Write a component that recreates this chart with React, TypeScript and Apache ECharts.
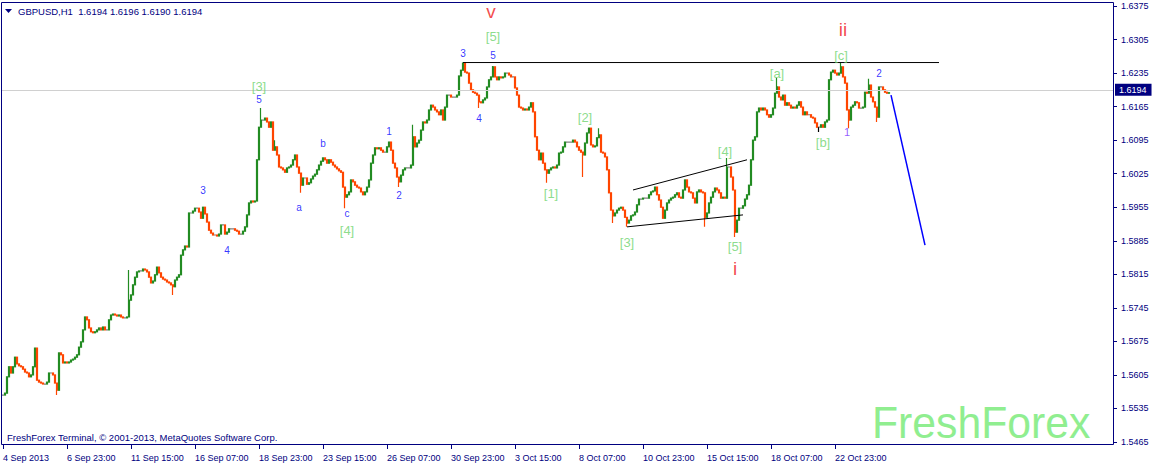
import React, { useEffect, useRef } from "react";
import * as echarts from "echarts";

// Hourly closes (one value per two H1 bars)
const closes: number[] = [
  1.5563, 1.5567, 1.5601, 1.5622, 1.5609, 1.5622, 1.5642, 1.5628, 1.5624, 1.5622,
  1.5617, 1.5611, 1.5609, 1.5601, 1.5605, 1.5622, 1.5661, 1.5594, 1.559, 1.5588,
  1.5586, 1.5586, 1.559, 1.5609, 1.5609, 1.5605, 1.5588, 1.5573, 1.5651, 1.5647,
  1.563, 1.5632, 1.563, 1.5632, 1.5636, 1.5638, 1.5642, 1.5647, 1.5663, 1.5674,
  1.5699, 1.5726, 1.572, 1.5703, 1.5695, 1.5693, 1.5695, 1.5699, 1.5703, 1.5699,
  1.5705, 1.5699, 1.5699, 1.572, 1.573, 1.5732, 1.573, 1.5728, 1.573, 1.5726,
  1.5724, 1.5724, 1.5726, 1.5761, 1.5772, 1.5793, 1.5809, 1.582, 1.5822, 1.5822,
  1.5826, 1.5824, 1.582, 1.5809, 1.5797, 1.5801, 1.5814, 1.583, 1.5818, 1.5809,
  1.5805, 1.5803, 1.5799, 1.5797, 1.5793, 1.5789, 1.5803, 1.5809, 1.5814, 1.5855,
  1.5866, 1.5874, 1.5872, 1.5943, 1.5943, 1.5947, 1.5953, 1.5953, 1.5945, 1.5932,
  1.5955, 1.5941, 1.5924, 1.5907, 1.5901, 1.5897, 1.5897, 1.5895, 1.5899, 1.5918,
  1.5918, 1.5899, 1.5903, 1.591, 1.591, 1.591, 1.5907, 1.5905, 1.5899, 1.5899,
  1.5905, 1.5914, 1.5939, 1.5964, 1.5968, 1.5966, 1.5968, 1.6054, 1.6122, 1.6137,
  1.6137, 1.6141, 1.6133, 1.6122, 1.6133, 1.6074, 1.6081, 1.6064, 1.6039, 1.6037,
  1.6033, 1.6028, 1.6037, 1.6039, 1.6043, 1.6054, 1.6064, 1.6039, 1.6026, 1.6001,
  1.6016, 1.6016, 1.6003, 1.6006, 1.6014, 1.602, 1.6024, 1.6033, 1.6043, 1.6051,
  1.6058, 1.6054, 1.6047, 1.6054, 1.6049, 1.6043, 1.6039, 1.6035, 1.6031, 1.6028,
  1.5997, 1.5976, 1.5981, 1.5987, 1.6012, 1.6008, 1.6001, 1.5997, 1.5995, 1.5987,
  1.5981, 1.5987, 1.5997, 1.6012, 1.6047, 1.6064, 1.6079, 1.6077, 1.6079, 1.6074,
  1.607, 1.607, 1.6081, 1.6091, 1.6074, 1.6047, 1.6037, 1.6018, 1.6008, 1.6022,
  1.6033, 1.6037, 1.6037, 1.6037, 1.6043, 1.6102, 1.6081, 1.6089, 1.6095, 1.6116,
  1.6133, 1.6131, 1.6137, 1.6158, 1.6168, 1.6164, 1.6158, 1.6154, 1.6148, 1.6158,
  1.6137, 1.6164, 1.6189, 1.6189, 1.6185, 1.6185, 1.6185, 1.6189, 1.6229, 1.6241,
  1.6256, 1.6237, 1.6235, 1.6214, 1.62, 1.6195, 1.6193, 1.6189, 1.6175, 1.6173,
  1.6179, 1.6183, 1.6206, 1.6221, 1.6227, 1.6248, 1.6227, 1.6221, 1.6227, 1.6225,
  1.6227, 1.6235, 1.6235, 1.6231, 1.6227, 1.6227, 1.6204, 1.6189, 1.6164, 1.6162,
  1.6158, 1.616, 1.6158, 1.6164, 1.6173, 1.6154, 1.6102, 1.6074, 1.6054, 1.6068,
  1.6047, 1.6033, 1.6026, 1.6033, 1.6037, 1.6039, 1.6037, 1.6043, 1.6068, 1.607,
  1.6081, 1.6091, 1.6091, 1.6091, 1.6091, 1.6095, 1.6091, 1.6081, 1.6074, 1.607,
  1.6064, 1.6089, 1.611, 1.612, 1.6085, 1.6081, 1.6083, 1.61, 1.6106, 1.607,
  1.6068, 1.606, 1.6033, 1.5985, 1.5949, 1.5937, 1.5943, 1.5949, 1.5953, 1.5955,
  1.5949, 1.5934, 1.5922, 1.5928, 1.5937, 1.5939, 1.5945, 1.596, 1.5972, 1.5972,
  1.5974, 1.5974, 1.5974, 1.5981, 1.5987, 1.5989, 1.5997, 1.5981, 1.597, 1.5955,
  1.5932, 1.5949, 1.5964, 1.597, 1.5974, 1.5976, 1.5981, 1.5985, 1.5976, 1.5974,
  1.5991, 1.6012, 1.5997, 1.5987, 1.5985, 1.5974, 1.5964, 1.5987, 1.5991, 1.5987,
  1.5985, 1.5934, 1.5943, 1.5964, 1.5976, 1.5987, 1.5995, 1.5991, 1.5985, 1.5974,
  1.5976, 1.5974, 1.6039, 1.6039, 1.6018, 1.5991, 1.5903, 1.5928, 1.5953, 1.5953,
  1.5958, 1.5972, 1.5981, 1.6001, 1.6054, 1.6095, 1.6102, 1.6154, 1.6162, 1.6158,
  1.6162, 1.6158, 1.6148, 1.6143, 1.6148, 1.6162, 1.6193, 1.6206, 1.6185, 1.6179,
  1.6189, 1.6168, 1.6173, 1.6168, 1.6162, 1.6164, 1.6162, 1.6168, 1.6175, 1.6164,
  1.6148, 1.6154, 1.6148, 1.6148, 1.6143, 1.6141, 1.6131, 1.6122, 1.6122, 1.6127,
  1.6122, 1.6133, 1.6137, 1.6221, 1.6237, 1.6241, 1.6235, 1.6231, 1.6235, 1.6248,
  1.6227, 1.6214, 1.6158, 1.6137, 1.6164, 1.6168, 1.6175, 1.6173, 1.6162, 1.6162,
  1.6164, 1.6195, 1.6193, 1.621, 1.6185, 1.6175, 1.6164, 1.6143, 1.6206, 1.6206,
  1.62, 1.6195, 1.6193, 1.6194,
];

// Notable wick extremes: [index, low, high]
const wicks: [number, number | null, number | null][] = [
  [27, 1.5563, null], [63, null, 1.5824], [85, 1.5772, null], [129, null, 1.6162],
  [136, null, 1.6095], [149, 1.5985, null], [171, 1.5953, null], [198, 1.5997, null],
  [205, null, 1.6127], [238, 1.6162, null], [245, null, 1.625], [272, 1.6006, null],
  [290, 1.6018, null], [298, null, 1.612], [305, 1.5922, null], [312, 1.5914, null],
  [351, 1.5914, null], [362, null, 1.6058], [366, 1.5893, null], [387, null, 1.6225],
  [408, 1.6112, null], [419, null, 1.6256], [423, 1.612, null], [433, null, 1.6223],
  [437, 1.6133, null],
];

const TOTAL_SLOTS = 556;
const LABEL_EVERY = 32;
const timeLabels = [
  "4 Sep 2013", "6 Sep 23:00", "11 Sep 15:00", "16 Sep 07:00", "18 Sep 23:00",
  "23 Sep 15:00", "26 Sep 07:00", "30 Sep 23:00", "3 Oct 15:00", "8 Oct 07:00",
  "10 Oct 23:00", "15 Oct 15:00", "18 Oct 07:00", "22 Oct 23:00",
];

const yMin = 1.5465;
const yMax = 1.6375;
const yStep = 0.007;
const bid = 1.6194;
const lastBar = [1.6194, 1.6196, 1.619, 1.6194]; // O H L C
const symbolName = "GBPUSD,H1";

const resistanceLine: [number, number][] = [[230, 1.6257], [468, 1.6257]];
const channelUpper: [number, number][] = [[315, 1.5991], [372, 1.6054]];
const channelLower: [number, number][] = [[312, 1.5914], [370, 1.5939]];
const projectionLine: [number, number][] = [[444, 1.6189], [461, 1.5876]];

// wave labels: [index, price, text]
const blueLabels: [number, number, string][] = [
  [100, 1.5989, "3"], [112, 1.5864, "4"], [128, 1.6179, "5"], [148, 1.5955, "a"],
  [160, 1.6089, "b"], [172, 1.5941, "c"], [193, 1.6114, "1"], [198, 1.5979, "2"],
  [230, 1.6275, "3"], [238, 1.6141, "4"], [245, 1.6271, "5"], [438, 1.6235, "2"],
];
const violetLabels: [number, number, string][] = [[422, 1.6112, "1"]];
const greenLabels: [number, number, string][] = [
  [128, 1.6208, "[3]"], [172, 1.5907, "[4]"], [245, 1.6312, "[5]"], [274, 1.5983, "[1]"],
  [291, 1.6143, "[2]"], [312, 1.5882, "[3]"], [361, 1.6072, "[4]"], [366, 1.5872, "[5]"],
  [387, 1.6235, "[a]"], [410, 1.6091, "[b]"], [419, 1.6271, "[c]"],
];
const redLabels: [number, number, string][] = [
  [244, 1.6364, "v"], [366, 1.5828, "i"], [420, 1.6325, "ii"],
];

const NAVY = "#000080";
const FONT = "Liberation Sans, Arial, sans-serif";

export default function App() {
  const ref = useRef<HTMLDivElement>(null);

  useEffect(() => {
    document.body.style.margin = "0";
    if (!ref.current) return;
    const chart = echarts.init(ref.current, undefined, { renderer: "svg" });

    const categories = Array.from({ length: TOTAL_SLOTS }, (_, i) => String(i));
    const wickMap: Record<number, [number | null, number | null]> = {};
    wicks.forEach(([i, lo, hi]) => (wickMap[i] = [lo, hi]));

    const candles = closes.map((c, i) => {
      const o = i === 0 ? c : closes[i - 1];
      let lo = Math.min(o, c);
      let hi = Math.max(o, c);
      const w = wickMap[i];
      if (w) {
        if (w[0] != null) lo = Math.min(lo, w[0]);
        if (w[1] != null) hi = Math.max(hi, w[1]);
      }
      return [o, c, lo, hi];
    });

    const isLabelIdx = (idx: number) =>
      idx % LABEL_EVERY === 0 && idx / LABEL_EVERY < timeLabels.length;

    const labelSeries = (
      items: [number, number, string][],
      color: string,
      size: number
    ) => ({
      type: "scatter",
      symbol: "circle",
      symbolSize: 1,
      silent: true,
      itemStyle: { color: "rgba(0,0,0,0)" },
      z: 5,
      data: items.map(([i, p, t]) => ({
        value: [i, p],
        label: {
          show: true,
          position: "inside",
          formatter: t,
          color,
          fontSize: size,
          fontFamily: FONT,
        },
      })),
    });

    const lineSeries = (pts: [number, number][], color: string, width: number) => ({
      type: "line",
      data: pts,
      symbol: "none",
      silent: true,
      lineStyle: { color, width },
      z: 4,
    });

    chart.setOption({
      animation: false,
      backgroundColor: "#ffffff",
      grid: { left: 2, right: 40, top: 6, bottom: 21, containLabel: false },
      xAxis: {
        type: "category",
        data: categories,
        boundaryGap: true,
        offset: 3,
        axisLine: { show: false },
        axisTick: {
          show: true,
          alignWithLabel: true,
          interval: (idx: number) => isLabelIdx(idx),
          length: 4,
          lineStyle: { color: NAVY },
        },
        axisLabel: {
          interval: (idx: number) => isLabelIdx(idx),
          formatter: (_v: string, idx: number) =>
            isLabelIdx(idx) ? timeLabels[idx / LABEL_EVERY] : "",
          align: "left",
          margin: 8,
          fontSize: 9,
          color: NAVY,
          fontFamily: FONT,
        },
        splitLine: { show: false },
      },
      yAxis: {
        type: "value",
        position: "right",
        min: yMin,
        max: yMax,
        interval: yStep,
        axisLine: { show: false },
        axisTick: { show: true, length: 3, lineStyle: { color: NAVY } },
        axisLabel: {
          margin: 7,
          fontSize: 9,
          color: NAVY,
          fontFamily: FONT,
          formatter: (v: number) => v.toFixed(4),
        },
        splitLine: { show: false },
      },
      series: [
        {
          type: "candlestick",
          data: candles,
          barWidth: 1.6,
          silent: true,
          itemStyle: {
            color: "#228B22",
            color0: "#FF4500",
            borderColor: "#228B22",
            borderColor0: "#FF4500",
            borderColorDoji: "#000000",
            borderWidth: 1.2,
          },
          markLine: {
            silent: true,
            symbol: "none",
            animation: false,
            lineStyle: { color: "#D0D0D0", type: "solid", width: 1 },
            label: {
              show: true,
              position: "end",
              distance: 1,
              formatter: bid.toFixed(4),
              color: "#ffffff",
              backgroundColor: NAVY,
              padding: [2, 5, 1, 4],
              fontSize: 9,
              fontFamily: FONT,
            },
            data: [{ yAxis: bid }],
          },
          z: 3,
        },
        lineSeries(resistanceLine, "#000000", 1),
        lineSeries(channelUpper, "#000000", 1),
        lineSeries(channelLower, "#000000", 1),
        lineSeries(projectionLine, "#0000FF", 1.5),
        labelSeries(blueLabels, "#0000FF", 10),
        labelSeries(violetLabels, "#7733FF", 11),
        labelSeries(greenLabels, "#6ED36E", 13),
        labelSeries(redLabels, "#F02020", 19),
      ],
      graphic: [
        {
          type: "rect",
          shape: { x: 1.5, y: 2.5, width: 1112, height: 442 },
          style: { fill: "none", stroke: NAVY, lineWidth: 1 },
          silent: true,
          z: 10,
        },
        {
          type: "polygon",
          shape: { points: [[5, 9], [12, 9], [8.5, 13]] },
          style: { fill: NAVY },
          silent: true,
        },
        {
          type: "text",
          x: 18,
          y: 11,
          style: {
            text: `${symbolName}  ${lastBar.map((v) => v.toFixed(4)).join(" ")}`,
            fill: NAVY,
            font: `9.5px ${FONT}`,
            verticalAlign: "middle",
          },
          silent: true,
        },
        {
          type: "text",
          x: 7,
          y: 437,
          style: {
            text: "FreshForex Terminal, © 2001-2013, MetaQuotes Software Corp.",
            fill: NAVY,
            font: `9.5px ${FONT}`,
            verticalAlign: "middle",
          },
          silent: true,
        },
        {
          type: "text",
          x: 872,
          y: 422,
          scaleX: 0.95,
          style: {
            text: "FreshForex",
            fill: "#90EE90",
            font: `45px ${FONT}`,
            verticalAlign: "middle",
          },
          silent: true,
        },
      ],
    });

    return () => chart.dispose();
  }, []);

  return <div ref={ref} style={{ width: 1154, height: 463 }} />;
}
